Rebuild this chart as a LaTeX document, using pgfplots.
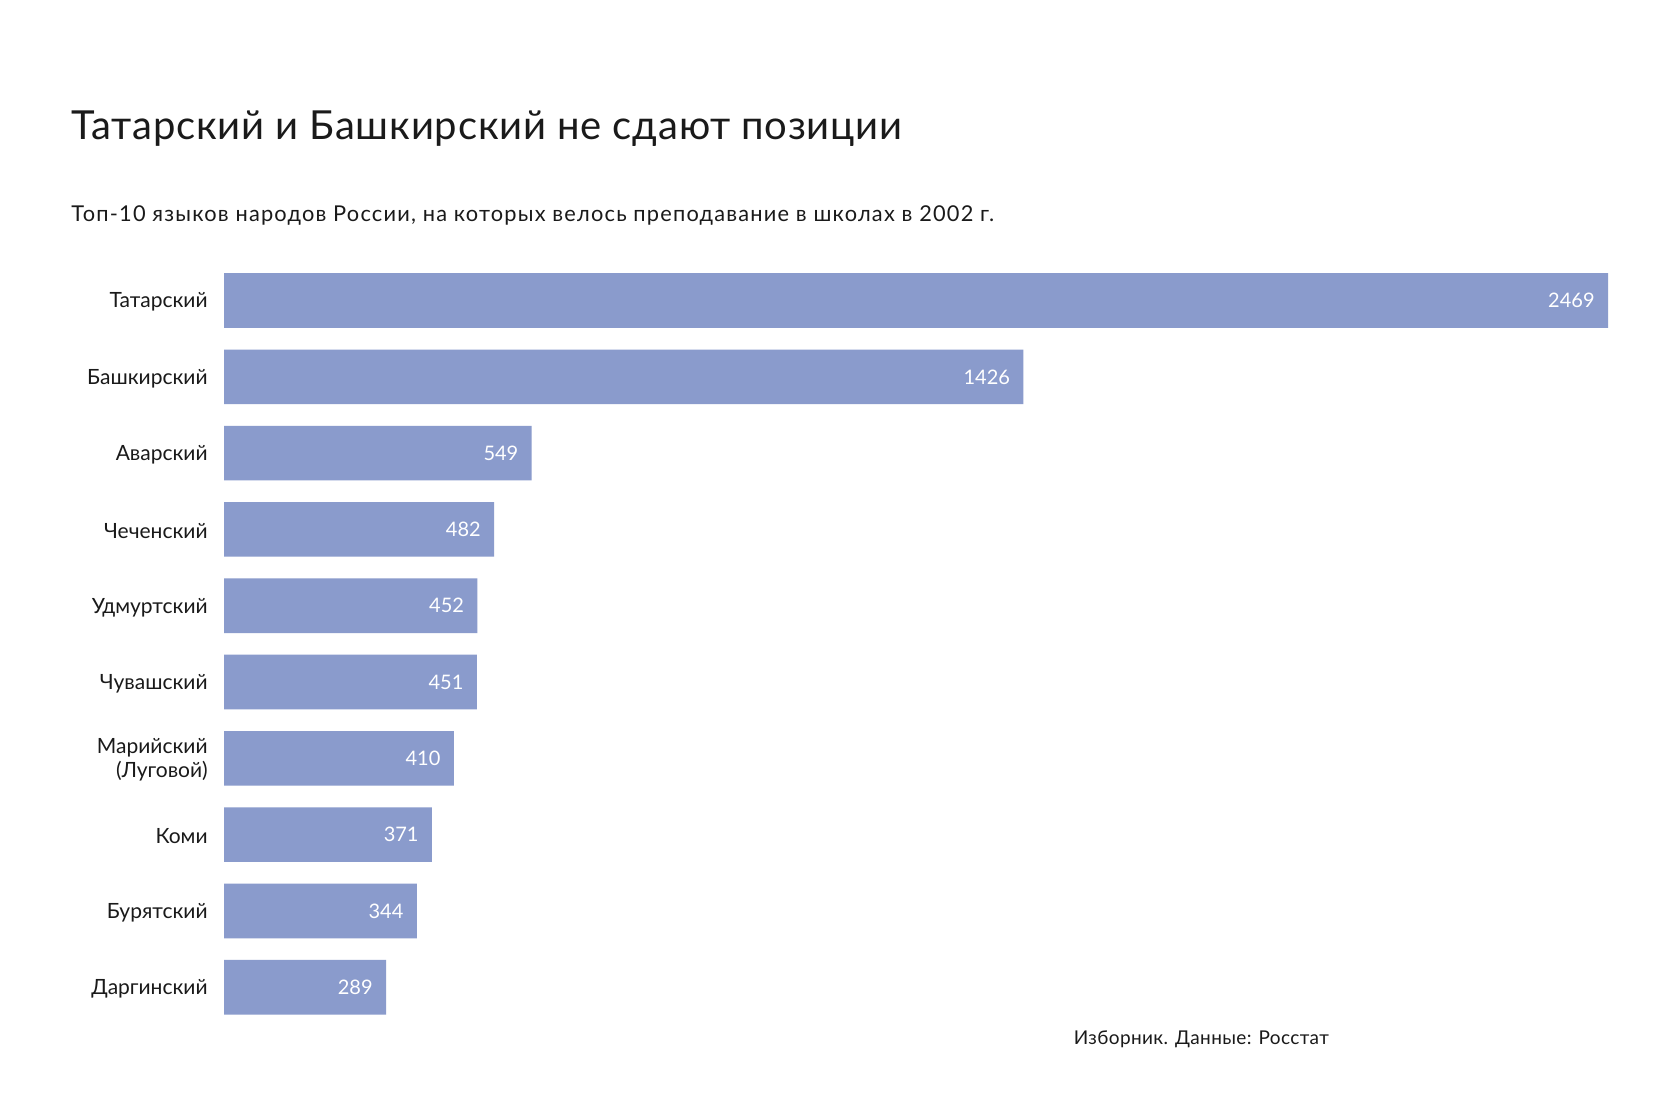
\documentclass[border=0pt]{standalone}
\usepackage{pgfplots}
\pgfplotsset{compat=1.18}
\usepackage{fontspec}
\setmainfont{Lato}
\definecolor{barblue}{HTML}{8A9BCC}
\definecolor{txt}{HTML}{1A1A1A}

\begin{document}
\begin{tikzpicture}
\useasboundingbox[fill=white] (0,0) rectangle (840bp,560bp);
% title block
\node[anchor=base west, inner sep=0, text=txt, font=\fontsize{20bp}{24bp}\selectfont\addfontfeatures{LetterSpace=2}]
  at (35.5bp,490bp) {Татарский и Башкирский не сдают позиции};
\node[anchor=base west, inner sep=0, text=txt, font=\fontsize{10.9bp}{13bp}\selectfont\addfontfeatures{LetterSpace=5.5}]
  at (35.5bp,449bp) {Топ-10 языков народов России, на которых велось преподавание в школах в 2002 г.};

\begin{axis}[
    at={(112bp,47.3bp)}, anchor=south west,
    scale only axis,
    width=692bp, height=381.5bp,
    xbar, bar width=27.3bp,
    xmin=0, xmax=2469,
    ymin=-0.5, ymax=9.5, y dir=reverse,
    axis line style={draw=none},
    xtick=\empty,
    ytick={0,...,9},
    yticklabels={Татарский, Башкирский, Аварский, Чеченский, Удмуртский, Чувашский,
      {Марийский\\(Луговой)}, Коми, Бурятский, Даргинский},
    major tick length=0pt,
    yticklabel style={align=right, anchor=east, inner sep=0pt, xshift=-8bp, yshift=-0.8bp,
      text=txt, font=\fontsize{10.5bp}{12bp}\selectfont},
    /pgf/number format/1000 sep={},
    /pgf/number format/assume math mode=true,
    nodes near coords,
    every node near coord/.append style={anchor=east, xshift=-6.5bp, inner sep=0pt,
      text=white, font=\fontsize{10bp}{12bp}\selectfont},
  ]
  \addplot[fill=barblue, draw=none] coordinates {
    (2469,0) (1426,1) (549,2) (482,3) (452,4)
    (451,5) (410,6) (371,7) (344,8) (289,9)};
\end{axis}

\node[anchor=base west, inner sep=0, text=txt, font=\fontsize{9.5bp}{12bp}\selectfont\addfontfeatures{LetterSpace=2}]
  at (536.7bp,38bp) {Изборник. Данные: Росстат};
\end{tikzpicture}
\end{document}
